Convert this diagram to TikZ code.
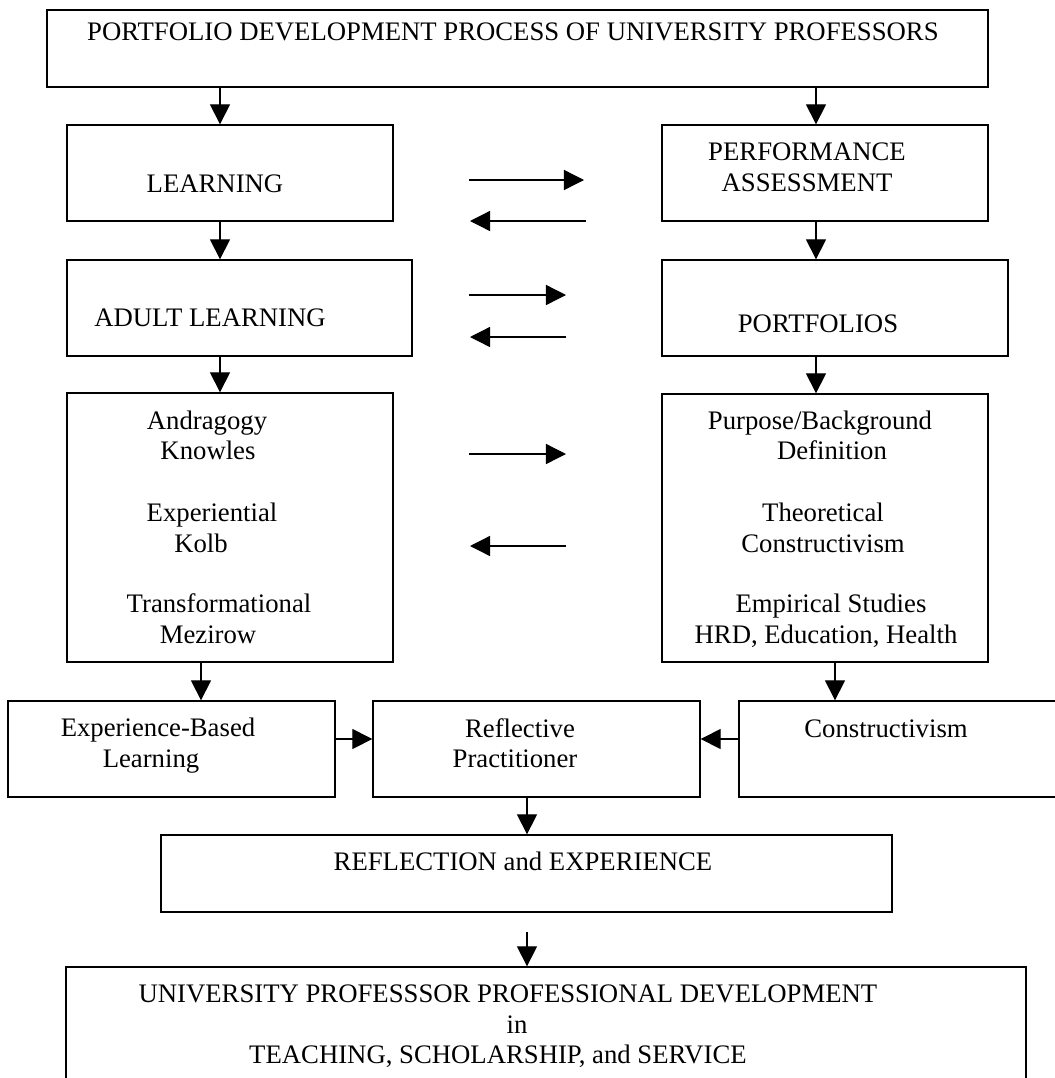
\documentclass[tikz,border=0pt]{standalone}
\usepackage{fontspec}
\setmainfont{Liberation Serif}
\usetikzlibrary{arrows.meta, positioning, fit}
\tikzset{%
	flow box/.style={
		draw,
		line width=0.6pt,
		inner sep=0pt
	},
	flow text/.style={
		anchor=base,
		inner sep=0pt,
		font=\fontsize{12}{14}\selectfont
	},
}

\begin{document}
\begin{tikzpicture}[x=0.449pt, y=-0.449pt, line width=0.6pt,
	>={Triangle[length=9pt, width=9pt]}]
			\clip (0,0) rectangle (1055,1078);
			
			% Boxes
			\node[flow box, fit={(47,10) (988,87)}] (process) {};
			\node[flow box, fit={(67,125) (393,221)}] (learning) {};
			\node[flow box, fit={(662,125) (988,221)}] (assess) {};
			\node[flow box, fit={(67,260) (412,356)}] (adult) {};
			\node[flow box, fit={(662,260) (1008,356)}] (portf) {};
			\node[flow box, fit={(67,393) (393,662)}] (theories) {};
			\node[flow box, fit={(662,394) (988,662)}] (studies) {};
			\node[flow box, fit={(8,701) (335,797)}] (expbased) {};
			\node[flow box, fit={(373,701) (700,797)}] (reflprac) {};
			\node[flow box, fit={(739,701) (1075,797)}] (constr) {};
			\node[flow box, fit={(161,835) (892,912)}] (reflexp) {};
			\node[flow box, fit={(66,967) (1026,1100)}] (profdev) {};
			
			% Texts
			\node[flow text] (processT) at (513,40) {PORTFOLIO DEVELOPMENT PROCESS OF UNIVERSITY PROFESSORS};
			\node[flow text] (learningT) at (215,192) {LEARNING};
			\node[flow text] (assessT1) at (807,160) {PERFORMANCE};
			\node[flow text] (assessT2) at (807,191) {ASSESSMENT};
			\node[flow text] (adultT) at (210,326) {ADULT LEARNING};
			\node[flow text] (portfT) at (818,332) {PORTFOLIOS};
			
			\node[flow text] (theoT1) at (207,429) {Andragogy};
			\node[flow text] (theoT2) at (208,459) {Knowles};
			\node[flow text] (theoT3) at (212,521) {Experiential};
			\node[flow text] (theoT4) at (201,552) {Kolb};
			\node[flow text] (theoT5) at (219,612) {Transformational};
			\node[flow text] (theoT6) at (208,643) {Mezirow};
			
			\node[flow text] (studT1) at (820,429) {Purpose/Background};
			\node[flow text] (studT2) at (832,459) {Definition};
			\node[flow text] (studT3) at (823,521) {Theoretical};
			\node[flow text] (studT4) at (823,552) {Constructivism};
			\node[flow text] (studT5) at (831,612) {Empirical Studies};
			\node[flow text] (studT6) at (826,643) {HRD, Education, Health};
			
			\node[flow text] (expT1) at (158,736) {Experience-Based};
			\node[flow text] (expT2) at (151,767) {Learning};
			\node[flow text] (reflT1) at (520,737) {Reflective};
			\node[flow text] (reflT2) at (515,767) {Practitioner};
			\node[flow text] (constrT) at (886,737) {Constructivism};
			\node[flow text] (reflexpT) at (523,870) {REFLECTION and EXPERIENCE};
			
			\node[flow text] (profT1) at (508,1002) {UNIVERSITY PROFESSSOR PROFESSIONAL DEVELOPMENT};
			\node[flow text] (profT2) at (517,1033) {in};
			\node[flow text] (profT3) at (498,1063) {TEACHING, SCHOLARSHIP, and SERVICE};
			
			% Arrows down
			\draw[->] (process.south -| 220,0) -- (learning.north -| 220,0);
			\draw[->] (process.south -| 816,0) -- (assess.north -| 816,0);
			\draw[->] (learning.south -| 220,0) -- (adult.north -| 220,0);
			\draw[->] (assess.south -| 816,0) -- (portf.north -| 816,0);
			\draw[->] (adult.south -| 220,0) -- (theories.north -| 220,0);
			\draw[->] (portf.south -| 816,0) -- (studies.north -| 816,0);
			\draw[->] (theories.south -| 201,0) -- (expbased.north -| 201,0);
			\draw[->] (studies.south -| 835,0) -- (constr.north -| 835,0);
			\draw[->] (reflprac.south -| 527,0) -- (reflexp.north -| 527,0);
			
			\coordinate (gap) at (527,932);
			\draw[->] (gap) -- (profdev.north -| gap);
			
			% Arrows into the middle box
			\draw[->] (expbased.east |- 0,739) -- (reflprac.west |- 0,739);
			\draw[->] (constr.west |- 0,739) -- (reflprac.east |- 0,739);
			
			% Arrows between the two columns
			\coordinate (fwd1s) at (469,180);
			\coordinate (fwd1e) at (584,180);
			\coordinate (back1s) at (586,221);
			\coordinate (back1e) at (470,221);
			\coordinate (fwd2s) at (469,295);
			\coordinate (fwd2e) at (566,295);
			\coordinate (back2s) at (566,337);
			\coordinate (back2e) at (470,337);
			\coordinate (fwd3s) at (469,454);
			\coordinate (fwd3e) at (566,454);
			\coordinate (back3s) at (566,546);
			\coordinate (back3e) at (470,546);
			\draw[->] (fwd1s) -- (fwd1e);
			\draw[->] (back1s) -- (back1e);
			\draw[->] (fwd2s) -- (fwd2e);
			\draw[->] (back2s) -- (back2e);
			\draw[->] (fwd3s) -- (fwd3e);
			\draw[->] (back3s) -- (back3e);
		\end{tikzpicture}
\end{document}
